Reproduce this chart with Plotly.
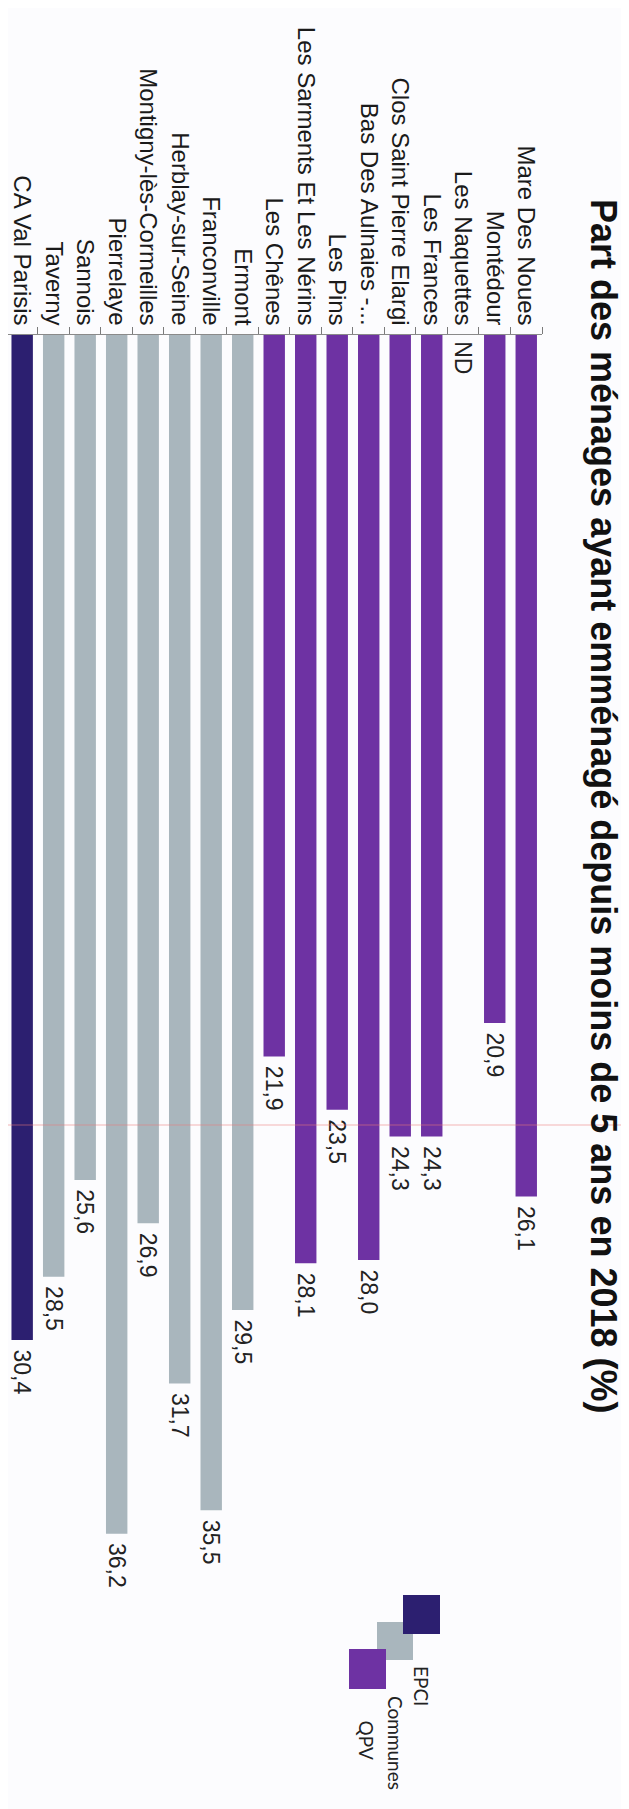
import plotly.graph_objects as go

# Données (de gauche à droite dans l'image pivotée)
categories = [
    "CA Val Parisis", "Taverny", "Sannois", "Pierrelaye",
    "Montigny-lès-Cormeilles", "Herblay-sur-Seine", "Franconville", "Ermont",
    "Les Chênes", "Les Sarments Et Les Nérins", "Les Pins",
    "Bas Des Aulnaies -...", "Clos Saint Pierre Elargi", "Les Frances",
    "Les Naquettes", "Montédour", "Mare Des Noues",
]
values = [30.4, 28.5, 25.6, 36.2, 26.9, 31.7, 35.5, 29.5,
          21.9, 28.1, 23.5, 28.0, 24.3, 24.3, None, 20.9, 26.1]
groups = ["EPCI"] + ["Communes"] * 7 + ["QPV"] * 9
legend_order = ["EPCI", "Communes", "QPV"]

colors = {"EPCI": "#2c1f70", "Communes": "#a9b6bd", "QPV": "#6e32a3"}
title = "Part des ménages ayant emménagé depuis moins de 5 ans en 2018 (%)"

W, H = 629, 1809
L, R, T, B = 0, 95, 327, 50
pw, ph = W - L - R, H - T - B
PX_PER_UNIT = 33.37
y0 = 0.28
y1 = y0 + ph / PX_PER_UNIT


def px(x):
    return (x - L) / pw


def py(y):
    return (H - B - y) / ph


def fmt(v):
    return "" if v is None else f"{v:.1f}".replace(".", ",")


FONT = "Liberation Sans, Arial, sans-serif"

fig = go.Figure()
for grp in legend_order:
    xs = [c for c, g in zip(categories, groups) if g == grp]
    ys = [v for v, g in zip(values, groups) if g == grp]
    fig.add_trace(go.Bar(
        x=xs, y=ys, name=grp,
        marker=dict(color=colors[grp], line=dict(width=0)),
        text=["\u00a0" + fmt(v) if v is not None else "" for v in ys],
        textposition="outside", textangle=90, constraintext="none",
        cliponaxis=False,
        outsidetextfont=dict(family=FONT, size=23, color="#222"),
        showlegend=False,
    ))

shapes = []
# légende dessinée à la main (texte pivoté)
legend_boxes = {
    "Communes": (369, 1614, 405, 1652),
    "EPCI": (395, 1587, 432, 1626),
    "QPV": (341, 1641, 378, 1681),
}
for grp in ["Communes", "EPCI", "QPV"]:
    xa, ya, xb, yb = legend_boxes[grp]
    shapes.append(dict(type="rect", xref="paper", yref="paper",
                       x0=px(xa), x1=px(xb), y0=py(ya), y1=py(yb),
                       fillcolor=colors[grp], line=dict(width=0), layer="above"))
# trait rouge du scan
shapes.append(dict(type="line", xref="paper", yref="paper",
                   x0=px(0), x1=px(W), y0=py(1117), y1=py(1117),
                   line=dict(color="rgba(235,120,120,0.55)", width=1)))

annotations = [
    dict(text="<b>" + title + "</b>", xref="paper", yref="paper",
         x=px(596), y=py(798), xanchor="center", yanchor="middle",
         textangle=90, showarrow=False,
         font=dict(family=FONT, size=36, color="#111")),
    dict(text="ND", xref="x", yref="paper", x="Les Naquettes", y=py(331),
         xanchor="center", yanchor="top", textangle=90, showarrow=False,
         font=dict(family=FONT, size=23, color="#222")),
]
legend_text = {"EPCI": (414, 1656), "Communes": (388, 1686), "QPV": (358, 1710)}
for grp, (lx, ly) in legend_text.items():
    annotations.append(dict(text=grp, xref="paper", yref="paper",
                            x=px(lx), y=py(ly), xanchor="center", yanchor="top",
                            textangle=90, showarrow=False,
                            font=dict(family="Lato, sans-serif", size=19, color="#222")))

fig.update_layout(
    width=W, height=H,
    margin=dict(l=L, r=R, t=T, b=B, autoexpand=False),
    paper_bgcolor="#fcfcfe", plot_bgcolor="#fcfcfe",
    barmode="overlay", bargap=0.32,
    xaxis=dict(
        side="top", type="category",
        categoryorder="array", categoryarray=categories,
        range=[-0.45, len(categories) - 0.5],
        tickangle=90, tickson="boundaries",
        ticks="outside", ticklen=7, tickcolor="#7a7a7a",
        showline=True, linecolor="#8a8a8a", linewidth=1,
        showgrid=False, automargin=False,
        tickfont=dict(family=FONT, size=24, color="#1a1a1a"),
    ),
    yaxis=dict(range=[y1, y0], visible=False, showgrid=False, zeroline=False),
    shapes=shapes, annotations=annotations,
)

fig.write_html("out.html")
